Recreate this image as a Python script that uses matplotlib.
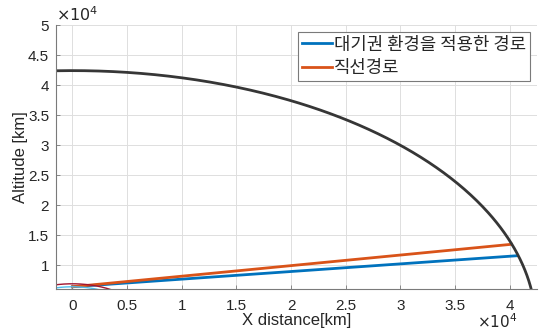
import numpy as np
import matplotlib
matplotlib.use('Agg')
import matplotlib.pyplot as plt
from matplotlib.ticker import FixedLocator, FixedFormatter

# Orbit / earth radii [km]
GEO_RADIUS = 42400
EARTH_RADIUS = 6371
LEO_RADIUS = 6871

# Path end points [km]: (x, y)
atmo_path_x = [0, 40700]
atmo_path_y = [6371, 11550]
straight_path_x = [0, 40150]
straight_path_y = [6371, 13450]

labels = ['대기권 환경을 적용한 경로', '직선경로']

x_ticks = [0, 5000, 10000, 15000, 20000, 25000, 30000, 35000, 40000]
x_tick_labels = ['0', '0.5', '1', '1.5', '2', '2.5', '3', '3.5', '4']
y_ticks = [10000, 15000, 20000, 25000, 30000, 35000, 40000, 45000, 50000]
y_tick_labels = ['1', '1.5', '2', '2.5', '3', '3.5', '4', '4.5', '5']

TXT = '#262626'
plt.rcParams['font.family'] = ['Liberation Sans', 'Noto Sans CJK KR', 'DejaVu Sans']

fig = plt.figure(figsize=(5.44, 3.3), dpi=100)
ax = fig.add_axes([0.103, 0.1242, 0.884, 0.8])

theta = np.linspace(0, np.pi, 721)

ax.plot(atmo_path_x, atmo_path_y, color='#0072BD', lw=2, label=labels[0])
ax.plot(straight_path_x, straight_path_y, color='#D95319', lw=2, label=labels[1])
ax.plot(GEO_RADIUS * np.cos(theta), GEO_RADIUS * np.sin(theta), color='#363636', lw=2)
ax.plot(EARTH_RADIUS * np.cos(theta), EARTH_RADIUS * np.sin(theta), color='#4DBEEE', lw=1)
ax.plot(LEO_RADIUS * np.cos(theta), LEO_RADIUS * np.sin(theta), color='#A2142F', lw=1)

ax.set_xlim(-1500, 42500)
ax.set_ylim(6000, 50000)

ax.xaxis.set_major_locator(FixedLocator(x_ticks))
ax.xaxis.set_major_formatter(FixedFormatter(x_tick_labels))
ax.yaxis.set_major_locator(FixedLocator(y_ticks))
ax.yaxis.set_major_formatter(FixedFormatter(y_tick_labels))

ax.grid(True, color='#dedede', lw=0.7)
ax.set_axisbelow(True)
for s in ['top', 'right']:
    ax.spines[s].set_visible(False)
for s in ['left', 'bottom']:
    ax.spines[s].set_color('#7a7a7a')
    ax.spines[s].set_linewidth(0.8)
ax.tick_params(direction='in', length=3, width=0.6, color='#7a7a7a',
               labelsize=11, labelcolor=TXT)
ax.tick_params(axis='x', pad=7)
ax.tick_params(axis='y', pad=5)

ax.set_xlabel('X distance[km]', fontsize=12, color=TXT, labelpad=0)
ax.set_ylabel('Altitude [km]', fontsize=12, color=TXT, labelpad=0)

# axis multipliers (MATLAB style)
ax.text(0.0, 1.005, r'$\times10^4$', transform=ax.transAxes, fontsize=11.5,
        color=TXT, ha='left', va='bottom')
ax.text(0.96, -0.09, r'$\times10^4$', transform=ax.transAxes, fontsize=11,
        color=TXT, ha='right', va='top')

leg = ax.legend(loc='upper right', bbox_to_anchor=(0.985, 0.973), borderaxespad=0,
                fancybox=False, framealpha=1, edgecolor='#7a7a7a',
                handlelength=1.7, handletextpad=0.1, labelspacing=0.3,
                borderpad=0.2,
                prop={'family': ['Noto Sans CJK KR'], 'size': 12.8})
leg.get_frame().set_linewidth(0.8)
for t in leg.get_texts():
    t.set_color(TXT)

fig.savefig('out.png', dpi=100)
